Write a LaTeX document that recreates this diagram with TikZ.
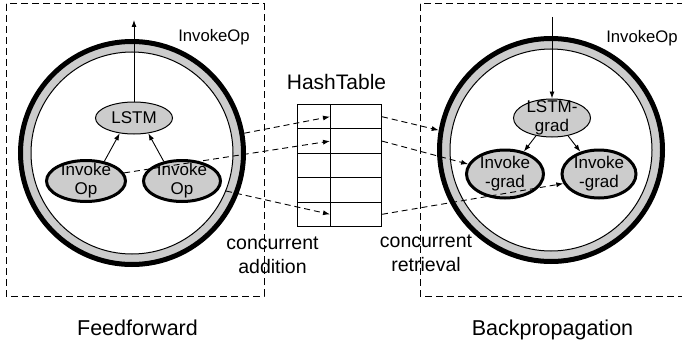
\documentclass[tikz,border=0pt]{standalone}
\usepackage{fontspec}
\setmainfont{Liberation Sans}
\usetikzlibrary{arrows.meta,shapes.geometric}
\begin{document}
\begin{tikzpicture}[x=1pt,y=-1pt,
  arr/.style={-{Latex[length=7pt,width=5pt]}, line width=0.9pt},
  darr/.style={arr, dash pattern=on 6pt off 4pt},
  frame/.style={draw, line width=1pt, dash pattern=on 7pt off 4pt},
  ring/.style={circle, draw, line width=5pt, fill=gray!40, minimum size=223pt, inner sep=0pt},
  innerring/.style={circle, draw, line width=1pt, fill=white, minimum size=202pt, inner sep=0pt},
  optxt/.style={font=\fontsize{17}{19}\selectfont, align=center},
  opbase/.style={ellipse, draw, fill=gray!40, inner sep=0pt},
  opthin/.style={opbase, line width=1pt},
  opthick/.style={opbase, line width=3pt},
  cell/.style={draw, line width=1pt, inner sep=0pt, minimum height=24.4pt, anchor=north west},
  smalllbl/.style={font=\fontsize{16.7}{19}\selectfont, anchor=base},
  midlbl/.style={font=\fontsize{19.5}{24}\selectfont, align=center},
  biglbl/.style={font=\fontsize{21.5}{24}\selectfont, anchor=base}]
\useasboundingbox (0,0) rectangle (682,345);

% frames
\draw[frame] (6,4) rectangle (264,296);
\draw[frame] (420,4) rectangle (700,296);

% rings
\node[ring] (lc) at (132,153) {};
\node[innerring] (lci) at (132,153) {};
\node[ring] (rc) at (551,150) {};
\node[innerring] (rci) at (551,150) {};

% left ops
\node[opthin, minimum width=77pt, minimum height=32pt,
      label={[optxt]center:LSTM}] (lstm) at (134,118) {};
\node[opthick, minimum width=79pt, minimum height=41pt,
      label={[optxt]center:Invoke\\Op}] (iol) at (86,181) {};
\node[opthick, minimum width=77pt, minimum height=41pt,
      label={[optxt]center:Invoke\\Op}] (ior) at (182,181) {};

% right ops
\node[opthin, minimum width=77pt, minimum height=38pt,
      label={[optxt]center:LSTM-\\grad}] (lstmg) at (552,118) {};
\node[opthick, minimum width=77pt, minimum height=48pt,
      label={[optxt]center:Invoke\\-grad}] (igl) at (505,174) {};
\node[opthick, minimum width=74pt, minimum height=48pt,
      label={[optxt]center:Invoke\\-grad}] (igr) at (599,174) {};

% solid arrows
\coordinate (outL) at (134,20);
\coordinate (inR) at (552,17);
\draw[arr] (iol.47) -- (lstm.227);
\draw[arr] (ior.133) -- (lstm.313);
\draw[arr] (lstm.north) -- (outL);
\draw[arr] (inR) -- (lstmg.north);
\draw[arr] (lstmg.228) -- (igl.50);
\draw[arr] (lstmg.312) -- (igr.130);

% hash table
\node[font=\fontsize{21}{24}\selectfont, anchor=base] (htl) at (336.5,89) {HashTable};
\foreach \i in {1,...,5}{
  \node[cell, minimum width=33pt] (k\i) at (297,{104+(\i-1)*24.4}) {};
  \node[cell, minimum width=51pt] (v\i) at (330,{104+(\i-1)*24.4}) {};
}

% dashed arrows
\draw[darr] (lc.10) -- (v1.west);
\draw[darr] (iol.12) -- (v2.west);
\draw[darr] (lci.338) -- (v5.west);
\draw[darr] (v1.east) -- (rc.170);
\draw[darr] (v2.east) -- (igl.165);
\draw[darr] (v5.east) -- (igr.195);

% labels
\node[smalllbl] (ilL) at (214,41.5) {InvokeOp};
\node[smalllbl] (ilR) at (642,42) {InvokeOp};
\node[midlbl] (ca) at (272.5,255) {concurrent\\addition};
\node[midlbl] (cr) at (426,253) {concurrent\\retrieval};
\node[biglbl] (ff) at (137.5,335) {Feedforward};
\node[biglbl] (bp) at (552.5,335) {Backpropagation};
\end{tikzpicture}
\end{document}
